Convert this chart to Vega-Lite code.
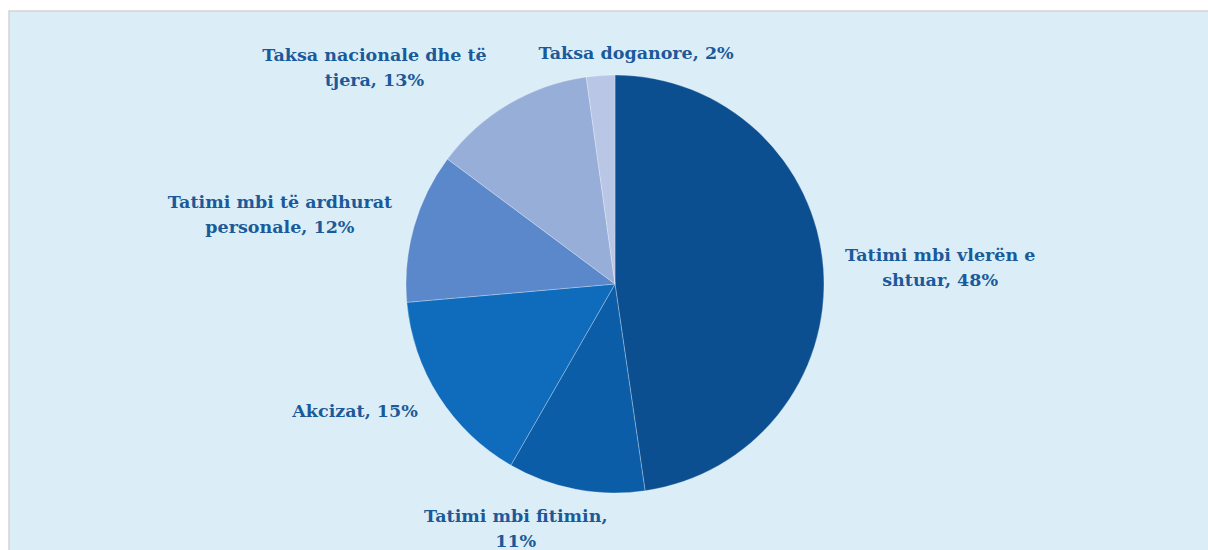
{
  "$schema": "https://vega.github.io/schema/vega-lite/v6.json",
  "autosize": "none",
  "width": 1212,
  "height": 546,
  "padding": {"left": 9, "top": 11, "right": 0, "bottom": 0},
  "background": "#FFFFFF",
  "view": {"fill": "#DBEEF7", "stroke": "#D4D4D4", "strokeWidth": 1.5},
  "config": {
    "text": {"font": "DejaVu Serif", "fontWeight": "bold", "fontSize": 17.5, "lineHeight": 25, "fill": "#1B5A9A", "lineBreak": "\n", "align": "center", "baseline": "middle"}
  },
  "data": {
    "values": [
      {"cat": "Tatimi mbi vlerën e shtuar", "ord": 1, "value": 47.7, "label": "Tatimi mbi vlerën e\nshtuar, 48%"},
      {"cat": "Tatimi mbi fitimin", "ord": 2, "value": 10.6, "label": "Tatimi mbi fitimin,\n11%"},
      {"cat": "Akcizat", "ord": 3, "value": 15.3, "label": "Akcizat, 15%"},
      {"cat": "Tatimi mbi të ardhurat personale", "ord": 4, "value": 11.6, "label": "Tatimi mbi të ardhurat\npersonale, 12%"},
      {"cat": "Taksa nacionale dhe të tjera", "ord": 5, "value": 12.6, "label": "Taksa nacionale dhe të\ntjera, 13%"},
      {"cat": "Taksa doganore", "ord": 6, "value": 2.2, "label": "Taksa doganore, 2%"}
    ]
  },
  "encoding": {
    "theta": {"field": "value", "type": "quantitative", "stack": true},
    "order": {"field": "ord", "type": "quantitative"}
  },
  "layer": [
    {
      "mark": {"type": "arc", "outerRadius": 209, "stroke": "#FFFFFF", "strokeOpacity": 0.35, "strokeWidth": 0.8},
      "encoding": {
        "color": {
          "field": "cat", "type": "nominal", "legend": null,
          "scale": {
            "domain": ["Tatimi mbi vlerën e shtuar", "Tatimi mbi fitimin", "Akcizat", "Tatimi mbi të ardhurat personale", "Taksa nacionale dhe të tjera", "Taksa doganore"],
            "range": ["#0B4F91", "#0C5DA8", "#0F6BBC", "#5B88CB", "#96AED8", "#B9C6E6"]
          }
        }
      }
    },
    {
      "mark": {"type": "text", "radius": 326, "dy": -4},
      "encoding": {"text": {"condition": {"test": "datum.ord === 1", "field": "label"}, "value": ""}}
    },
    {
      "mark": {"type": "text", "radius": 247, "dx": -53, "dy": -10},
      "encoding": {"text": {"condition": {"test": "datum.ord === 2", "field": "label"}, "value": ""}}
    },
    {
      "mark": {"type": "text", "radius": 280, "dx": -24, "dy": -23},
      "encoding": {"text": {"condition": {"test": "datum.ord === 3", "field": "label"}, "value": ""}}
    },
    {
      "mark": {"type": "text", "radius": 340, "dx": -8, "dy": 12},
      "encoding": {"text": {"condition": {"test": "datum.ord === 4", "field": "label"}, "value": ""}}
    },
    {
      "mark": {"type": "text", "radius": 290, "dx": -93, "dy": 22},
      "encoding": {"text": {"condition": {"test": "datum.ord === 5", "field": "label"}, "value": ""}}
    },
    {
      "mark": {"type": "text", "radius": 231, "dx": 37},
      "encoding": {"text": {"condition": {"test": "datum.ord === 6", "field": "label"}, "value": ""}}
    }
  ]
}
